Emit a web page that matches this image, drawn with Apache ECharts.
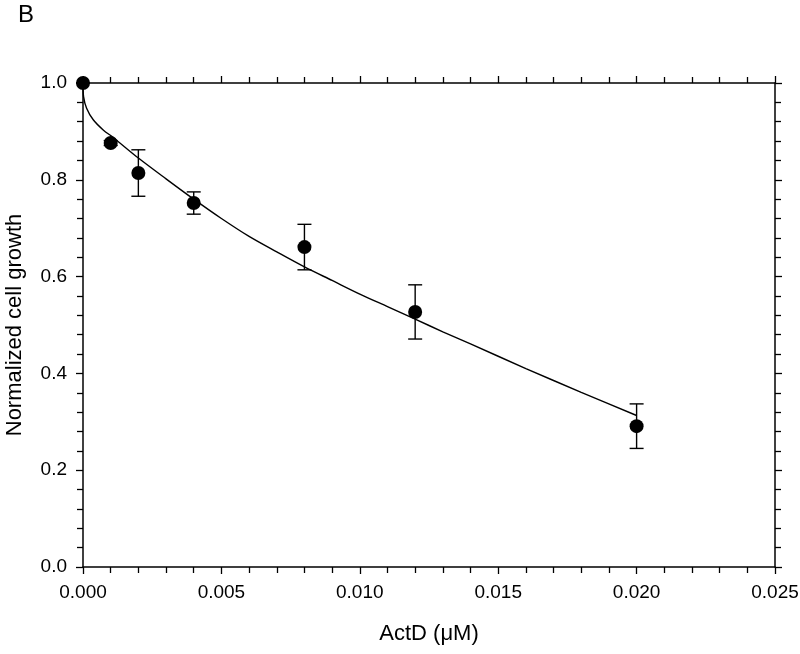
<!DOCTYPE html>
<html>
<head>
<meta charset="utf-8">
<script src="https://cdn.jsdelivr.net/npm/echarts@6/dist/echarts.min.js"></script>
<style>
  html, body { margin: 0; padding: 0; background: #fff; }
  #chart { width: 800px; height: 654px; }
</style>
</head>
<body>
<div id="chart"></div>
<script>
// measured points (ActD dose, normalized growth, SD)
const doses = [0, 0.001, 0.002, 0.004, 0.008, 0.012, 0.020]
const growth = [1.0, 0.876, 0.814, 0.752, 0.661, 0.527, 0.291]
const errors = [0, 0.005, 0.048, 0.023, 0.047, 0.056, 0.046]

// fitted curve
const fitX = [0, 0.00002, 0.00013, 0.00037, 0.00073, 0.0011, 0.002, 0.003, 0.004, 0.005, 0.006, 0.007, 0.008, 0.009, 0.010, 0.011, 0.012, 0.013, 0.014, 0.016, 0.018, 0.020]
const fitY = [1.0, 0.972, 0.948, 0.924, 0.903, 0.887, 0.845, 0.802, 0.760, 0.720, 0.683, 0.651, 0.620, 0.592, 0.564, 0.538, 0.512, 0.486, 0.461, 0.410, 0.361, 0.313]

const xTicks = [0.000, 0.005, 0.010, 0.015, 0.020, 0.025]
const yTicks = [0.0, 0.2, 0.4, 0.6, 0.8, 1.0]

const font = 'Liberation Sans, Arial, sans-serif'
const ink = '#000'

const chart = echarts.init(document.getElementById('chart'))

const axisCommon = {
  axisLine: { show: true, onZero: false, lineStyle: { color: ink, width: 1.5 } },
  axisTick: { show: true, length: 7, lineStyle: { color: ink, width: 1.3 } },
  minorTick: { show: true, splitNumber: 5, length: 6, lineStyle: { color: ink, width: 1.3 } },
  splitLine: { show: false }
}

const option = {
  backgroundColor: '#fff',
  animation: false,
  title: {
    text: 'B',
    left: 13,
    top: -2,
    textStyle: { fontFamily: font, fontSize: 24, fontWeight: 'normal', color: ink }
  },
  grid: { left: 83, right: 25, top: 83, bottom: 87, outerBoundsMode: 'none', containLabel: false },
  xAxis: [
    {
      ...axisCommon,
      type: 'value',
      position: 'bottom',
      min: xTicks[0],
      max: xTicks[xTicks.length - 1],
      interval: 0.005,
      name: 'ActD (\u03bcM)',
      nameLocation: 'middle',
      nameGap: 56,
      nameTextStyle: { fontFamily: font, fontSize: 22, color: ink },
      axisLabel: {
        margin: 16,
        fontFamily: font,
        fontSize: 19,
        color: ink,
        formatter: v => v.toFixed(3)
      }
    },
    {
      ...axisCommon,
      type: 'value',
      position: 'top',
      min: xTicks[0],
      max: xTicks[xTicks.length - 1],
      interval: 0.005,
      axisLabel: { show: false }
    }
  ],
  yAxis: [
    {
      ...axisCommon,
      type: 'value',
      position: 'left',
      min: yTicks[0],
      max: yTicks[yTicks.length - 1],
      interval: 0.2,
      name: 'Normalized cell growth',
      nameLocation: 'middle',
      nameGap: 57,
      nameTextStyle: { fontFamily: font, fontSize: 22, color: ink },
      axisLabel: {
        margin: 16,
        fontFamily: font,
        fontSize: 19,
        color: ink,
        formatter: v => v.toFixed(1)
      }
    },
    {
      ...axisCommon,
      type: 'value',
      position: 'right',
      min: yTicks[0],
      max: yTicks[yTicks.length - 1],
      interval: 0.2,
      axisLabel: { show: false }
    }
  ],
  series: [
    {
      type: 'line',
      smooth: 0.3,
      symbol: 'none',
      clip: false,
      data: fitX.map((x, i) => [x, fitY[i]]),
      lineStyle: { color: ink, width: 1.4 },
      z: 2
    },
    {
      type: 'custom',
      clip: false,
      data: doses.map((x, i) => [x, growth[i] - errors[i], growth[i] + errors[i]]),
      renderItem: (params, api) => {
        const lo = api.coord([api.value(0), api.value(1)])
        const hi = api.coord([api.value(0), api.value(2)])
        const half = 7
        const style = { stroke: ink, lineWidth: 1.4 }
        return {
          type: 'group',
          children: [
            { type: 'line', shape: { x1: lo[0], y1: lo[1], x2: hi[0], y2: hi[1] }, style },
            { type: 'line', shape: { x1: lo[0] - half, y1: lo[1], x2: lo[0] + half, y2: lo[1] }, style },
            { type: 'line', shape: { x1: hi[0] - half, y1: hi[1], x2: hi[0] + half, y2: hi[1] }, style }
          ]
        }
      },
      z: 3
    },
    {
      type: 'scatter',
      symbol: 'circle',
      symbolSize: 14,
      clip: false,
      data: doses.map((x, i) => [x, growth[i]]),
      itemStyle: { color: ink, opacity: 1 },
      z: 4
    }
  ]
}

chart.setOption(option)
</script>
</body>
</html>
